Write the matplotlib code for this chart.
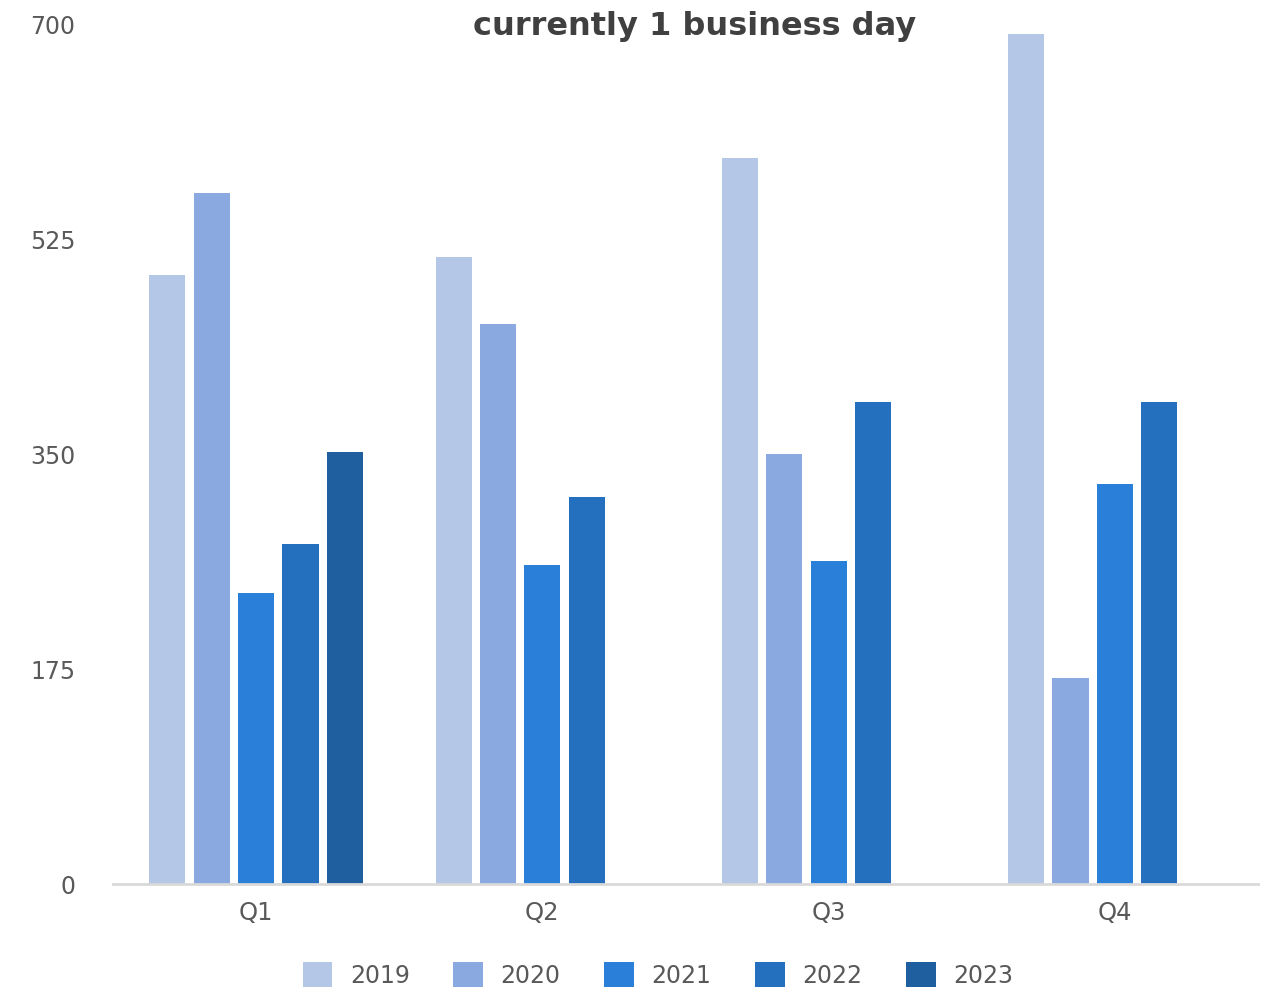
import matplotlib.pyplot as plt
import matplotlib.patches as mpatches
import numpy as np

# quarterly counts per year (2023 only has Q1 so far)
quarters = ['Q1', 'Q2', 'Q3', 'Q4']
years = ['2019', '2020', '2021', '2022', '2023']
v2019 = [496, 511, 592, 693]
v2020 = [563, 456, 350, 168]
v2021 = [237, 260, 263, 326]
v2022 = [277, 315, 393, 393]
v2023 = [352, np.nan, np.nan, np.nan]
y_ticks = [0, 175, 350, 525, 700]

series = [v2019, v2020, v2021, v2022, v2023]
colors = ['#B4C7E7', '#8AA9E0', '#2A7FD8', '#2470BE', '#1F5FA0']
text_col = '#595959'

plt.rcParams['font.family'] = ['DejaVu Sans']

fig = plt.figure(figsize=(12.74, 9.93), dpi=100)
ax = fig.add_axes([113 / 1274, 109 / 993, (1258 - 113) / 1274, (884 - 25) / 993])

x = np.arange(len(quarters))
slot = 0.155
width = 0.126
for i, (vals, col) in enumerate(zip(series, colors)):
    ax.bar(x + (i - 2) * slot, vals, width=width, color=col, label=years[i], zorder=2)

ax.set_xlim(-0.5, len(quarters) - 0.5)
ax.set_ylim(0, 700)
ax.set_yticks(y_ticks)
ax.set_yticklabels([str(t) for t in y_ticks])
ax.set_xticks(x)
ax.set_xticklabels(quarters)
ax.tick_params(axis='y', length=0, pad=27, labelsize=17, labelcolor=text_col)
ax.tick_params(axis='x', length=0, pad=12, labelsize=17.5, labelcolor=text_col)

for side in ['top', 'right', 'left']:
    ax.spines[side].set_visible(False)
ax.spines['bottom'].set_color('#D9D9D9')
ax.spines['bottom'].set_linewidth(2)
ax.spines['bottom'].set_zorder(3)

fig.text(695 / 1274, 1 - 26 / 993, 'currently 1 business day', ha='center', va='center',
         fontsize=23, fontweight='bold', color='#404040')

handles = [mpatches.Rectangle((0, 0), 1, 1, facecolor=c, edgecolor='none') for c in colors]
fig.legend(handles, years, loc='center', bbox_to_anchor=(658 / 1274, 1 - 975 / 993), ncol=5,
           frameon=False, fontsize=17, labelcolor=text_col, handlelength=1.25, handleheight=1.25,
           handletextpad=0.75, columnspacing=1.85)

fig.savefig('out.png', dpi=100)
